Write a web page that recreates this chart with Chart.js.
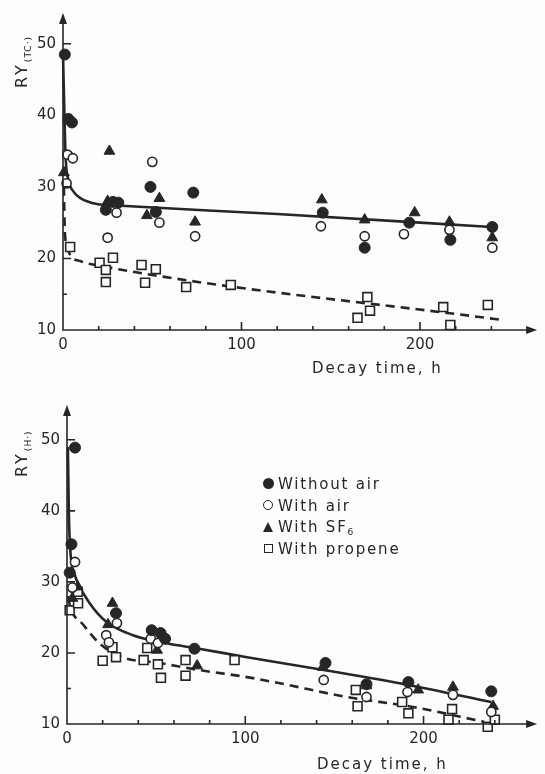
<!DOCTYPE html>
<html>
<head>
<meta charset="utf-8">
<script src="https://cdn.jsdelivr.net/npm/chart.js@4"></script>
<style>
  body { margin: 0; background: #fdfdfb; width: 545px; height: 774px; position: relative; overflow: hidden; }
  canvas { position: absolute; left: 0; }
  #legend { position: absolute; left: 262px; top: 474px; font: 15px 'DejaVu Sans', sans-serif; color: #262626; letter-spacing: 1.8px; }
  #legend div { height: 21.7px; line-height: 21.7px; white-space: nowrap; }
  .mk { display: inline-block; width: 12px; margin-right: 4px; vertical-align: middle; position: relative; top: -1px; }
  .mk span { display: block; margin: 0 auto; box-sizing: border-box; }
  .dot { width: 11px; height: 11px; border-radius: 50%; background: #262626; }
  .ring { width: 10px; height: 10px; border-radius: 50%; border: 1.6px solid #262626; }
  .tri { width: 0; height: 0; border-left: 5.5px solid transparent; border-right: 5.5px solid transparent; border-bottom: 10px solid #262626; }
  .sq { width: 9px; height: 9px; border: 1.6px solid #262626; }
  sub { font-size: 9px; vertical-align: -3px; letter-spacing: 0; }
</style>
</head>
<body>
<canvas id="topChart" width="545" height="385" style="top:0"></canvas>
<canvas id="bottomChart" width="545" height="389" style="top:385px"></canvas>
<div id="legend">
  <div><span class="mk"><span class="dot"></span></span>Without air</div>
  <div><span class="mk"><span class="ring"></span></span>With air</div>
  <div><span class="mk"><span class="tri"></span></span>With SF<sub>6</sub></div>
  <div><span class="mk"><span class="sq"></span></span>With propene</div>
</div>
<script>
// ---- data: [decay time h, RY] ----
const xTicks = [0, 20, 40, 60, 80, 100, 120, 140, 160, 180, 200, 220, 240];
const yTicks = [10, 15, 20, 30, 40, 50];

// upper panel, RY(TC.)
const topWithoutAir = [[1,48.5],[3,39.5],[5,39],[24,26.8],[28,27.9],[31,27.8],[49,30],[52,26.5],[73,29.2],[145.5,26.4],[169,21.5],[194,25],[217,22.6],[240.5,24.4]];
const topWithAir = [[2.5,34.5],[5.5,34],[2,30.5],[25,22.9],[30,26.4],[50,33.5],[54,25],[74,23.1],[144.5,24.5],[169,23.1],[191,23.4],[216.5,24],[240.5,21.5]];
const topSF6 = [[0.5,32],[26,35],[25,28],[47,26],[54,28.4],[74,25.1],[145,28.2],[169,25.4],[197,26.4],[216.5,25.1],[240.5,22.9]];
const topPropene = [[4,21.6],[20.5,19.4],[24,18.4],[28,20.1],[24,16.7],[44,19.1],[52,18.5],[46,16.6],[69,16],[94,16.3],[170.5,14.6],[172,12.7],[165,11.7],[213,13.2],[217,10.7],[238,13.5]];
const topFitSolid = [[0,48.5],[0.8,40],[1.5,34],[3,31],[6,29.3],[10,28.4],[19,27.6],[30,27.4],[120,26.2],[240,24.4]];
const topFitDashed = [[0.5,30],[1,24],[2,22],[4,20.5],[10,19.6],[20,19],[246,11.4]];

// lower panel, RY(H.)
const bottomWithoutAir = [[4.5,48.9],[2.5,35.3],[1.5,31.3],[27.5,25.6],[47.5,23.2],[52.5,22.8],[55,22],[71.5,20.6],[145,18.6],[168,15.6],[191.5,15.9],[238,14.6]];
const bottomWithAir = [[4.5,32.8],[3,29.2],[22,22.5],[23.5,21.5],[28,24.2],[47,22],[51,21.4],[144,16.2],[168,13.8],[191,14.5],[216.5,14.1],[238,11.7]];
const bottomSF6 = [[3,27.7],[6,29.3],[25.5,27],[23,24],[50.5,20.4],[73,18.2],[143.5,18],[168,15.4],[197,14.8],[216.5,15.2],[239,12.5]];
const bottomPropene = [[1.5,26],[6,28.6],[6.2,27],[20,18.9],[25.5,20.8],[27.5,19.4],[43,19],[45,20.7],[51,18.4],[52.7,16.5],[66.5,19],[66.5,16.8],[94,19],[162,14.8],[163,12.5],[188,13.1],[191.5,11.5],[214,10.6],[216,12.1],[236,9.6],[240,10.6]];
const bottomFitSolid = [[0.5,49],[1,40],[2,34],[4,31.3],[6,29.9],[12.7,27],[22,24.4],[37,22.5],[55,21.4],[74,20.6],[101,19.4],[144,17.6],[191.5,15.5],[238,13.1]];
const bottomFitDashed = [[0.5,28],[2,26.3],[9,24],[18,21.4],[31,19.4],[51.5,18.6],[74,17.6],[101,16.6],[118,15.8],[157,13.8],[194,12.4],[234,10.3]];

const INK = '#262626';
const PAPER = '#fdfdfb';
const FONT = "'DejaVu Sans', sans-serif";

const pts = arr => arr.map(p => ({x: p[0], y: p[1]}));

// axes, inward ticks, arrows and axis titles
const decor = {
  id: 'decor',
  afterDraw(chart, args, o) {
    const {ctx, chartArea: a, scales: {x, y}} = chart;
    ctx.save();
    ctx.strokeStyle = INK;
    ctx.fillStyle = INK;
    ctx.lineWidth = 1.6;
    ctx.beginPath();
    ctx.moveTo(a.left, a.top + 4); ctx.lineTo(a.left, a.bottom);
    ctx.lineTo(a.right - 4, a.bottom);
    x.ticks.forEach(t => {
      if (t.value === 0) return;
      const px = x.getPixelForValue(t.value);
      ctx.moveTo(px, a.bottom);
      ctx.lineTo(px, a.bottom - (t.value % 100 === 0 ? 8 : 4));
    });
    y.ticks.forEach(t => {
      if (t.value === 10) return;
      const py = y.getPixelForValue(t.value);
      ctx.moveTo(a.left, py);
      ctx.lineTo(a.left + (t.value % 10 === 0 ? 8 : 4), py);
    });
    ctx.stroke();
    // arrow heads
    ctx.beginPath();
    ctx.moveTo(a.left, a.top); ctx.lineTo(a.left - 4, a.top + 11); ctx.lineTo(a.left + 4, a.top + 11);
    ctx.closePath(); ctx.fill();
    ctx.beginPath();
    ctx.moveTo(a.right, a.bottom); ctx.lineTo(a.right - 11, a.bottom - 4); ctx.lineTo(a.right - 11, a.bottom + 4);
    ctx.closePath(); ctx.fill();

    // x title
    ctx.font = '15px ' + FONT;
    ctx.letterSpacing = '2px';
    ctx.textBaseline = 'middle';
    ctx.textAlign = 'left';
    ctx.fillText('Decay time, h', o.xTitleX, o.xTitleY);

    // y title, rotated, with subscript
    ctx.translate(o.yTitleX, o.yTitleY);
    ctx.rotate(-Math.PI / 2);
    ctx.textBaseline = 'alphabetic';
    ctx.font = '16px ' + FONT;
    ctx.letterSpacing = '3px';
    ctx.fillText('RY', 0, 0);
    const w = ctx.measureText('RY').width;
    ctx.font = '9px ' + FONT;
    ctx.letterSpacing = '1px';
    ctx.fillText(o.sub, w, 4);
    ctx.restore();
  }
};

function makeChart(id, d) {
  const marks = [
    {data: pts(d.withoutAir), pointStyle: 'circle', pointRadius: 5.5, backgroundColor: INK, borderColor: INK, borderWidth: 1},
    {data: pts(d.withAir), pointStyle: 'circle', pointRadius: 4.6, backgroundColor: PAPER, borderColor: INK, borderWidth: 1.6},
    {data: pts(d.sf6), pointStyle: 'triangle', pointRadius: 6.2, backgroundColor: INK, borderColor: INK, borderWidth: 1},
    {data: pts(d.propene), pointStyle: 'rect', pointRadius: 6.3, backgroundColor: PAPER, borderColor: INK, borderWidth: 1.6},
    {data: pts(d.fitSolid), showLine: true, pointRadius: 0, borderColor: INK, borderWidth: 2.6, cubicInterpolationMode: 'monotone', order: 5},
    {data: pts(d.fitDashed), showLine: true, pointRadius: 0, borderColor: INK, borderWidth: 2.6, borderDash: [9, 6], cubicInterpolationMode: 'monotone', order: 5}
  ].map(ds => Object.assign({clip: false}, ds));

  return new Chart(document.getElementById(id), {
    type: 'scatter',
    data: {datasets: marks},
    plugins: [decor],
    options: {
      responsive: false,
      animation: false,
      layout: {padding: {top: d.top, right: 545 - d.right, left: 0, bottom: 0}},
      plugins: {
        legend: {display: false},
        tooltip: {enabled: false},
        decor: d.decor
      },
      scales: {
        x: {
          type: 'linear', min: 0, max: d.xMax,
          grid: {display: false, drawTicks: false},
          border: {display: false},
          afterBuildTicks: s => { s.ticks = xTicks.map(v => ({value: v})); },
          afterFit: s => { s.height = d.xAxisH; s.paddingLeft = 0; s.paddingRight = 0; },
          ticks: {
            autoSkip: false, maxRotation: 0, padding: 6, color: INK,
            font: {family: FONT, size: 15},
            callback: v => (v % 100 === 0 ? String(v) : '')
          }
        },
        y: {
          type: 'linear', min: 10, max: d.yMax,
          grid: {display: false, drawTicks: false},
          border: {display: false},
          afterBuildTicks: s => { s.ticks = yTicks.map(v => ({value: v})); },
          afterFit: s => { s.width = d.left; s.paddingTop = 0; s.paddingBottom = 0; },
          ticks: {
            autoSkip: false, padding: 7, color: INK,
            font: {family: FONT, size: 15},
            callback: v => (v % 10 === 0 ? String(v) : '')
          }
        }
      }
    }
  });
}

makeChart('topChart', {
  withoutAir: topWithoutAir, withAir: topWithAir, sf6: topSF6, propene: topPropene,
  fitSolid: topFitSolid, fitDashed: topFitDashed,
  left: 63, right: 541, top: 13, xAxisH: 55, xMax: 265.6, yMax: 54.3,
  decor: {sub: '(TC·)', xTitleX: 312, xTitleY: 369, yTitleX: 27, yTitleY: 88}
});

makeChart('bottomChart', {
  withoutAir: bottomWithoutAir, withAir: bottomWithAir, sf6: bottomSF6, propene: bottomPropene,
  fitSolid: bottomFitSolid, fitDashed: bottomFitDashed,
  left: 67, right: 543, top: 20, xAxisH: 50, xMax: 263.7, yMax: 54.9,
  decor: {sub: '(H·)', xTitleX: 317, xTitleY: 380, yTitleX: 27, yTitleY: 92}
});
</script>
</body>
</html>
